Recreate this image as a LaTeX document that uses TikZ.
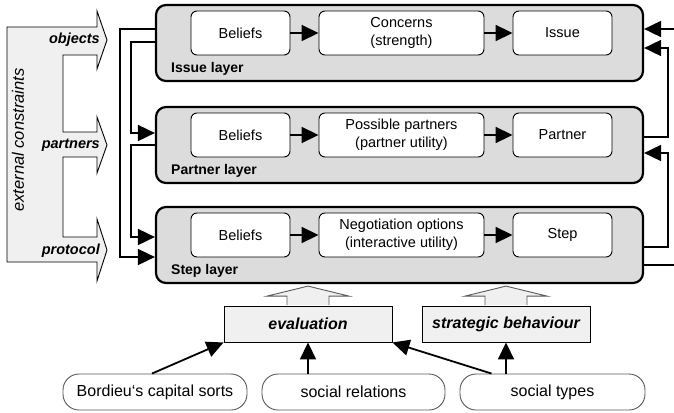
\documentclass[tikz,border=0pt]{standalone}
\usepackage{fontspec}
\setmainfont{Liberation Sans}
\usetikzlibrary{arrows.meta}
\definecolor{layer grey}{rgb}{0.8627, 0.8627, 0.8627}
\definecolor{pale grey}{rgb}{0.9412, 0.9412, 0.9412}
\definecolor{rim grey}{rgb}{0.3500, 0.3500, 0.3500}

\tikzset{
	layer/.style={draw, line width=2.2pt, fill=layer grey, rounded corners=10pt,
		minimum width=487pt, minimum height=76pt, inner sep=0pt},
	part/.style={draw, line width=0.9pt, fill=white, rounded corners=6pt,
		minimum height=44pt, inner sep=0pt, align=center,
		font=\fontsize{14.5}{18}\selectfont},
	layername/.style={anchor=west, inner sep=0pt,
		font=\fontsize{14}{16}\selectfont\bfseries},
	tag/.style={anchor=east, inner sep=0pt,
		font=\fontsize{14.5}{17}\selectfont\bfseries\itshape},
	conn/.style={line width=1.8pt, -{Triangle[length=17pt, width=16pt]}},
	flow/.style={line width=1.8pt},
	factor/.style={draw, line width=0.9pt, fill=pale grey, minimum width=168pt,
		minimum height=36pt, inner sep=0pt,
		font=\fontsize{16}{19}\selectfont\bfseries\itshape},
	source/.style={draw=rim grey, line width=0.9pt, rounded corners=16pt,
		minimum height=36pt, inner sep=0pt, font=\fontsize{16}{19}\selectfont}
}

\begin{document}
\begin{tikzpicture}[x=1pt, y=-1pt]
	\useasboundingbox (0,0) rectangle (674,412);
	% external constraints
	\draw[line width=0.9pt, fill=pale grey]
		(7,27) -- (97,27) -- (97,11) -- (107,40) -- (97,69) -- (97,55)
		-- (63,55) -- (63,132) -- (97,132) -- (97,117) -- (107,145) -- (97,173)
		-- (97,157) -- (63,157) -- (63,237) -- (97,237) -- (97,219) -- (107,250)
		-- (97,281) -- (97,262) -- (7,262) -- cycle;
	\node[rotate=90, inner sep=0pt, font=\fontsize{16.5}{19}\selectfont\itshape]
		(extern) at (18,140) {external constraints};
	\node[tag] (objects) at (100,40) {objects};
	\node[tag] (partners) at (100,145) {partners};
	\node[tag] (protocol) at (100,251) {protocol};

	% the three layers
	\node[layer] (issueL) at (399.5,43) {};
	\node[layer] (partnerL) at (399.5,145) {};
	\node[layer] (stepL) at (399.5,245) {};
	\node[layername] (issueName) at (171,69) {Issue layer};
	\node[layername] (partnerName) at (171,171) {Partner layer};
	\node[layername] (stepName) at (171,271) {Step layer};

	% part for the issue layer
	\node[part, minimum width=99pt] (belief1) at (240.5,33) {Beliefs};
	\node[part, minimum width=165pt] (concern) at (401.5,33) {Concerns\\(strength)};
	\node[part, minimum width=99pt] (issue) at (562.5,33) {Issue};
	% part for the partner layer
	\node[part, minimum width=99pt] (belief2) at (240.5,135) {Beliefs};
	\node[part, minimum width=165pt] (possible) at (401.5,135) {Possible partners\\(partner utility)};
	\node[part, minimum width=99pt] (partner) at (562.5,135) {Partner};
	% part for the step layer
	\node[part, minimum width=99pt] (belief3) at (240.5,235) {Beliefs};
	\node[part, minimum width=165pt] (options) at (401.5,235) {Negotiation options\\(interactive utility)};
	\node[part, minimum width=99pt] (step) at (562.5,235) {Step};

	\draw[conn] (belief1) -- (concern);
	\draw[conn] (concern) -- (issue);
	\draw[conn] (belief2) -- (possible);
	\draw[conn] (possible) -- (partner);
	\draw[conn] (belief3) -- (options);
	\draw[conn] (options) -- (step);

	% feedback on the left
	\draw[conn] ([yshift=14pt]issueL.west) -- ++(-35,0) |- ([yshift=-12pt]stepL.west);
	\draw[conn] ([yshift=1pt]issueL.west) -- ++(-24,0) |- ([yshift=12pt]partnerL.west);
	\draw[conn] (partnerL.west) -- ++(-24,0) |- ([yshift=8pt]stepL.west);

	% feedback on the right
	\coordinate (inflow) at (674,29);
	\coordinate (outflow) at (674,265);
	\draw[conn] (inflow) -- (inflow -| issueL.east);
	\draw[conn] ([yshift=8pt]partnerL.east) -- ++(24,0) |- ([yshift=-5pt]issueL.east);
	\draw[conn] ([yshift=-2pt]stepL.east) -- ++(24,0) |- ([yshift=-8pt]partnerL.east);
	\draw[flow] ([yshift=-20pt]stepL.east) -- (outflow);

	% evaluation and behaviour
	\node[factor] (evalbox) at (308,324) {evaluation};
	\node[factor] (strategy) at (506,324) {strategic behaviour};
	\foreach \b in {evalbox,strategy}
		\draw[draw=rim grey, line width=0.9pt, fill=pale grey]
			([xshift=-21pt, yshift=0.45pt]\b.north) -- ++(0,-9) -- ++(-20,0)
			-- ++(41,-10) -- ++(41,10) -- ++(-20,0) -- ++(0,9);

	% the sources below
	\node[source, minimum width=184pt] (capital) at (155,392) {Bordieu‘s capital sorts};
	\node[source, minimum width=183pt] (relations) at (353.5,392) {social relations};
	\node[source, minimum width=185pt] (types) at (552.5,392) {social types};

	\draw[conn] ([xshift=-3pt]capital.north) -- (evalbox.south west);
	\draw[conn] (evalbox.south |- relations.north) -- (evalbox.south);
	\draw[conn] ([xshift=-61pt]types.north) -- (evalbox.south east);
	\draw[conn] (strategy.south |- types.north) -- (strategy.south);
\end{tikzpicture}
\end{document}
